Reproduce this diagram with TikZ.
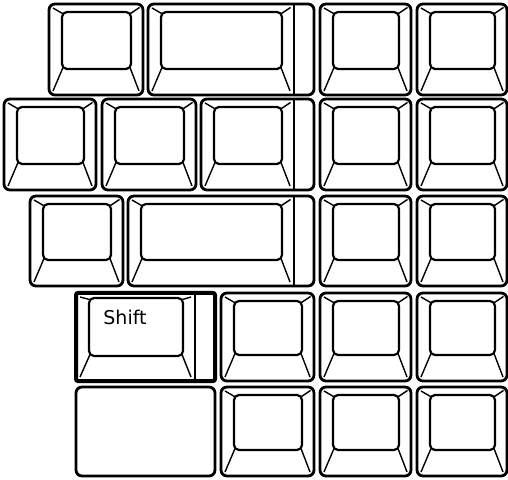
\documentclass[tikz,border=0pt]{standalone}
\usepackage{fontspec}
\newfontfamily\keyfont{DejaVu Sans}
\usepackage{tikz}
\usetikzlibrary{calc}
\tikzstyle{keyouter}=[black, draw=black, line width=1.4pt, rounded corners=3pt]
\tikzstyle{keyinner}=[black, draw=black, line width=1.1pt, rounded corners=2.5pt]
\tikzstyle{keybevel}=[black, draw=black, line width=0.7pt]
\tikzstyle{keystripe}=[black, draw=black, line width=1.1pt]
\tikzstyle{keylabel}=[black, shape=rectangle, inner sep=0pt, anchor=base west, font=\keyfont\fontsize{9.5}{11}\selectfont]

\newcommand{\keybox}[4]{\draw[keyouter] (#1,#2) rectangle (#3,#4);}
\newcommand{\keyface}[4]{%
  \draw[keyinner] ({#1+13},{#2+8}) rectangle ({#3-12},{#4-26});
  \draw[keybevel] ({#1+4},{#2+4}) -- ({#1+13.5},{#2+9.5});
  \draw[keybevel] ({#3-3.5},{#2+3.5}) -- ({#3-12.5},{#2+9.5});
  \draw[keybevel] ({#1+4},{#4-4}) -- ({#1+14},{#4-27.5});
  \draw[keybevel] ({#3-4},{#4-4}) -- ({#3-13},{#4-27.5});}
\newcommand{\keycap}[4]{\keybox{#1}{#2}{#3}{#4}\keyface{#1}{#2}{#3}{#4}}
\newcommand{\widekey}[5]{% stripe at x=#5
  \keybox{#1}{#2}{#3}{#4}
  \draw[keystripe] (#5,#2) -- (#5,#4);
  \keyface{#1}{#2}{#5}{#4}}

\begin{document}
\begin{tikzpicture}[x=0.5pt, y=-0.5pt]
\useasboundingbox (0,0) rectangle (508,480);

% row 1
\keycap{49}{4}{143}{95}
\widekey{148}{4}{314}{95}{294}
\keycap{320}{4}{411}{95}
\keycap{417}{4}{507}{95}

% row 2
\keycap{4}{99}{96}{190}
\keycap{102}{99}{196}{190}
\widekey{201}{99}{314}{190}{294}
\keycap{320}{99}{411}{190}
\keycap{417}{99}{507}{190}

% row 3
\keycap{30}{196}{123}{286}
\widekey{128}{196}{314}{286}{294}
\keycap{320}{196}{411}{286}
\keycap{417}{196}{507}{286}

% row 4
\draw[keyouter, line width=2pt, rounded corners=1pt] (76,293) rectangle (215,381);
\draw[keystripe] (195,293) -- (195,381);
\draw[keyinner] (89,298) rectangle (183,356);
\draw[keybevel] (80,297) -- (89.5,299.5);
\draw[keybevel] (191,297) -- (182.5,299.5);
\draw[keybevel] (80,377) -- (90,354.5);
\draw[keybevel] (191,377) -- (182,354.5);
\node[keylabel] (shifttext) at (103,325) {Shift};
\keycap{221}{293}{314}{381}
\keycap{320}{293}{411}{381}
\keycap{417}{293}{507}{381}

% row 5
\keybox{76}{387}{215}{476}
\keycap{221}{387}{314}{476}
\keycap{320}{387}{411}{476}
\keycap{417}{387}{507}{476}
\end{tikzpicture}
\end{document}
